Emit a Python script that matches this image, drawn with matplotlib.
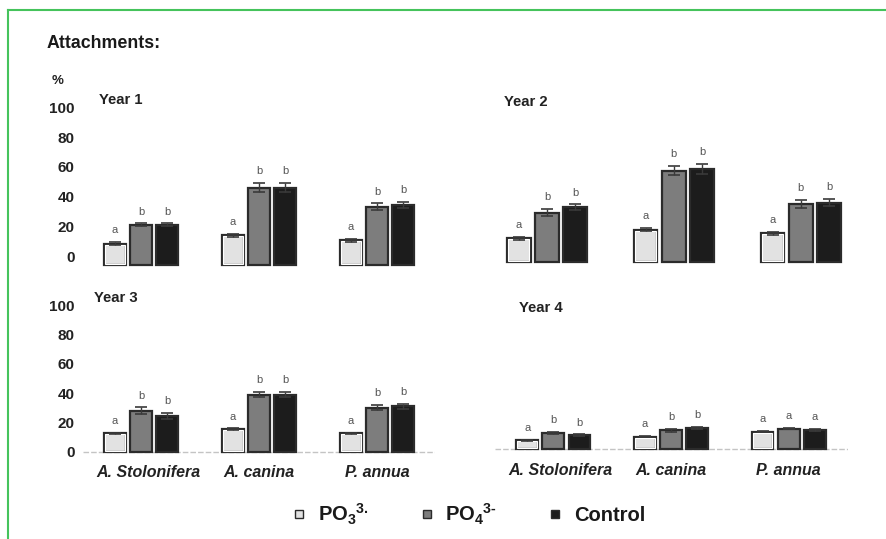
import matplotlib
matplotlib.use("Agg")
import matplotlib.pyplot as plt
from matplotlib.lines import Line2D
import matplotlib.transforms as mtransforms
import numpy as np

plt.rcParams['font.family'] = ['Liberation Sans', 'DejaVu Sans']
plt.rcParams['mathtext.fontset'] = 'custom'
plt.rcParams['mathtext.rm'] = 'Liberation Sans:bold'
plt.rcParams['mathtext.it'] = 'Liberation Sans:bold:italic'
plt.rcParams['mathtext.bf'] = 'Liberation Sans:bold'

# ---------------- data ----------------
years = ['Year 1', 'Year 2', 'Year 3', 'Year 4']
species = ['A. Stolonifera', 'A. canina', 'P. annua']
treatments = ['PO$_3$$^{3.}$', 'PO$_4$$^{3\\text{-}}$', 'Control']

po3_mean = [[8.3, 14.1, 10.7], [11.9, 17.7, 15.2], [12.5, 15.3, 12.5], [6.2, 8.6, 12.1]]
po4_mean = [[21.0, 46.1, 33.1], [29.3, 57.5, 35.1], [27.9, 39.0, 30.1], [11.4, 13.2, 14.1]]
ctrl_mean = [[21.0, 46.1, 34.4], [32.7, 58.8, 36.0], [24.2, 39.0, 31.0], [9.6, 14.8, 13.2]]

po3_err = [[1.0, 1.0, 1.0], [1.0, 1.0, 1.0], [0.5, 0.5, 0.5], [0.5, 0.5, 0.5]]
po4_err = [[1.0, 3.3, 2.3], [2.4, 3.0, 2.5], [2.3, 2.0, 2.0], [0.6, 1.0, 0.5]]
ctrl_err = [[1.0, 3.3, 2.0], [2.0, 3.5, 2.4], [2.0, 2.0, 1.8], [0.6, 0.8, 0.6]]

po3_letters = [['a', 'a', 'a'], ['a', 'a', 'a'], ['a', 'a', 'a'], ['a', 'a', 'a']]
po4_letters = [['b', 'b', 'b'], ['b', 'b', 'b'], ['b', 'b', 'b'], ['b', 'b', 'a']]
ctrl_letters = [['b', 'b', 'b'], ['b', 'b', 'b'], ['b', 'b', 'b'], ['b', 'b', 'a']]

yticks = [0, 20, 40, 60, 80, 100]

# ---------------- style ----------------
W, H = 887, 539
fills = ['#e2e2e2', '#7d7d7d', '#1c1c1c']
edge = '#2b2b2b'
bar_w = 0.185
bar_off = 0.222

def px_axes(left, bottom, width, height):
    return [left / W, (H - bottom) / H, width / W, height / H]

# panel geometry in pixels, xlim, ylim, bar drop below zero line, show y, show x
panels = [
    (px_axes(83.2, 267.9, 351.6, 167.8), (-0.49, 2.49), (-8, 105), 6.0, True, False),
    (px_axes(483.6, 267.9, 380.6, 167.8), (-0.5, 2.5), (-8, 105), 4.2, False, False),
    (px_axes(83.2, 463.2, 351.6, 165.0), (-0.49, 2.49), (-8, 105), 0.0, True, True),
    (px_axes(495.0, 461.0, 352.5, 165.0), (-0.495, 2.5), (-8, 105), 0.0, False, True),
]

fig = plt.figure(figsize=(W / 100, H / 100), dpi=100)

means_all = [po3_mean, po4_mean, ctrl_mean]
errs_all = [po3_err, po4_err, ctrl_err]
letters_all = [po3_letters, po4_letters, ctrl_letters]

x = np.arange(len(species))
for p, (rect, xl, yl, drop, show_y, show_x) in enumerate(panels):
    ax = fig.add_axes(rect)
    ax.set_xlim(*xl)
    ax.set_ylim(*yl)
    for s in ax.spines.values():
        s.set_visible(False)
    ax.patch.set_alpha(0)
    for t in range(3):
        xs = x + (t - 1) * bar_off
        vals = np.array(means_all[t][p])
        errs = np.array(errs_all[t][p])
        ax.bar(xs, vals + drop, bottom=-drop, width=bar_w, color=fills[t],
               edgecolor=edge, linewidth=1.6, zorder=2)
        if t == 0:
            ax.bar(xs, vals + drop - 1.2, bottom=-drop + 0.6, width=bar_w - 0.018,
                   color='none', edgecolor='white', linewidth=0.8, zorder=2.5)
        ax.errorbar(xs, vals, yerr=errs, fmt='none', ecolor='#3a3a3a',
                    elinewidth=1.0, capsize=4, capthick=1.2, zorder=3)
        for xi, v, e, lab in zip(xs, vals, errs, letters_all[t][p]):
            ax.annotate(lab, (xi, v + e), xytext=(0, 8.5), textcoords='offset points',
                        ha='center', va='center', fontsize=8, color='#555555')
    if show_x:
        ax.axhline(0, color='#c4c4c4', lw=1.0, ls=(0, (4, 1.5)), zorder=1)
        ax.set_xticks(x)
        ax.set_xticklabels(species, fontsize=11.5, fontweight='bold', fontstyle='italic',
                           color='#222222')
        ax.tick_params(axis='x', length=0, pad=1.5)
        lab0 = ax.get_xticklabels()[0]
        lab0.set_transform(lab0.get_transform() +
                           mtransforms.ScaledTranslation(7 / 100, 0, fig.dpi_scale_trans))
    else:
        ax.set_xticks([])
    if show_y:
        ax.set_yticks(yticks)
        ax.set_yticklabels([str(v) for v in yticks], fontsize=11, fontweight='bold',
                           color='#222222')
        ax.tick_params(axis='y', length=0, pad=6)
    else:
        ax.set_yticks([])

# panel titles
year_pos = [(99.3, 100), (504.3, 102.3), (94.3, 298.3), (519.3, 308.3)]
for name, (xp, yp) in zip(years, year_pos):
    fig.text(xp / W, 1 - yp / H, name, ha='left', va='center', fontsize=10.7,
             fontweight='bold', color='#222222')

fig.text(46.7 / W, 1 - 43.3 / H, 'Attachments:', ha='left', va='center', fontsize=12.8,
         fontweight='bold', color='#1a1a1a')
fig.text(58 / W, 1 - 81 / H, '%', ha='center', va='center', fontsize=9.5,
         fontweight='bold', color='#222222')

# legend
handles = [Line2D([], [], marker='s', ls='none', markersize=5.5, markerfacecolor=fills[i],
                  markeredgecolor=edge, markeredgewidth=1.0) for i in range(3)]
leg = fig.legend(handles, treatments, loc='center left',
                 bbox_to_anchor=(289 / W, 1 - 514 / H), ncol=3, frameon=False,
                 handlelength=1.0, handletextpad=0.42, columnspacing=2.4,
                 borderpad=0, borderaxespad=0,
                 prop={'family': 'Liberation Sans', 'weight': 'bold', 'size': 14.5})
for txt in leg.get_texts():
    txt.set_color('#1a1a1a')

# green frame
green = '#45c35c'
fig.add_artist(Line2D([8 / W, 1], [1 - 10 / H, 1 - 10 / H], transform=fig.transFigure,
                      color=green, lw=1.5))
fig.add_artist(Line2D([8 / W, 8 / W], [0, 1 - 10 / H], transform=fig.transFigure,
                      color=green, lw=1.5))

fig.savefig('out.png', dpi=100)
